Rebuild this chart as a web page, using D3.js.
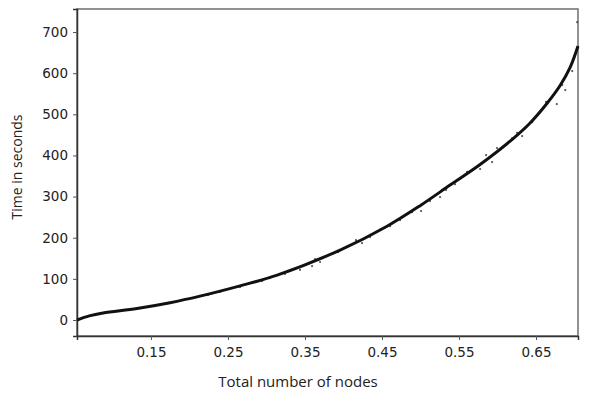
<!DOCTYPE html>
<html><head><meta charset="utf-8">
<script src="https://cdn.jsdelivr.net/npm/d3@7"></script>
<style>body{margin:0;background:#fff}svg{display:block}</style>
</head><body>
<script>
const xTicks = [0.15, 0.25, 0.35, 0.45, 0.55, 0.65];
const yTicks = [0, 100, 200, 300, 400, 500, 600, 700];
const fitX = [0.054, 0.07, 0.0878, 0.1319, 0.1748, 0.2137, 0.2657, 0.3139, 0.3956, 0.4566, 0.4995, 0.5384, 0.5774, 0.6203, 0.6423, 0.6644, 0.6813, 0.6943, 0.7045];
const fitY = [0, 10, 17, 28, 42, 58, 83, 109, 170, 228, 278, 328, 378, 441, 479, 527, 570, 614, 666];
const obsX = [0.0644,0.0709,0.0774,0.0839,0.0904,0.0969,0.1072,0.1163,0.1358,0.1553,0.1722,0.1943,0.2241,0.2397,0.2657,0.2826,0.2943,0.3046,0.3241,0.3436,0.3592,0.3631,0.3696,0.393,0.4163,0.4241,0.4345,0.4488,0.4605,0.4735,0.489,0.5007,0.5124,0.5254,0.5332,0.5449,0.5605,0.5774,0.5852,0.593,0.5994,0.619,0.6254,0.632,0.645,0.663,0.677,0.684,0.688,0.697,0.7034];
const obsY = [7,10,12,15,17,19,22,24,29,34,41,51,61,68,80,90,95,102,112,122,131,148,141,165,194,187,202,221,228,243,262,265,289,299,316,330,360,367,401,384,418,442,455,447,481,530,525,571,559,605,724];

const W = 589, H = 393;
const m = {l: 77, r: 578, t: 9, b: 336};
const svg = d3.select("body").append("svg").attr("width", W).attr("height", H);
const x = d3.scaleLinear().domain([0.054, 0.7045]).range([m.l, m.r]);
const y = d3.scaleLinear().domain([-38.9, 756]).range([m.b, m.t]);

// frame
svg.append("rect").attr("x", m.l).attr("y", m.t).attr("width", m.r - m.l).attr("height", m.b - m.t)
  .attr("fill", "none").attr("stroke", "#777").attr("stroke-width", 1.6);

const font = "'DejaVu Sans', Verdana, sans-serif";
const xa = svg.append("g").attr("transform", `translate(0,${m.b})`)
  .call(d3.axisBottom(x).tickValues(xTicks).tickFormat(d3.format(".2f")).tickSize(4).tickPadding(7));
const ya = svg.append("g").attr("transform", `translate(${m.l},0)`)
  .call(d3.axisLeft(y).tickValues(yTicks).tickFormat(d3.format("d")).tickSize(4).tickPadding(5));
[xa, ya].forEach(a => {
  a.select(".domain").attr("stroke", "#333").attr("stroke-width", 1.5);
  a.selectAll(".tick line").attr("stroke", "#555");
  a.selectAll("text").attr("fill", "#222").style("font-family", font).style("font-size", "13.5px");
});

// scatter
const pts = obsX.map((v, i) => [v, obsY[i]]);
svg.append("g").selectAll("circle").data(pts).join("circle")
  .attr("cx", d => x(d[0])).attr("cy", d => y(d[1])).attr("r", 1.1).attr("fill", "#555");

// fitted curve
const fit = fitX.map((v, i) => [v, fitY[i]]);
svg.append("path").datum(fit)
  .attr("d", d3.line().x(d => x(d[0])).y(d => y(d[1])).curve(d3.curveCatmullRom.alpha(0.5)))
  .attr("fill", "none").attr("stroke", "#111").attr("stroke-width", 3);

const tf = "'Open Sans', 'Liberation Sans', sans-serif";
svg.append("text").attr("x", 298).attr("y", 387).attr("text-anchor", "middle")
  .style("font-family", tf).style("font-size", "15px").attr("fill", "#222").text("Total number of nodes");
svg.append("text").attr("transform", `translate(22,167) rotate(-90)`).attr("text-anchor", "middle")
  .style("font-family", tf).style("font-size", "14px").attr("fill", "#222").text("Time in seconds");
</script>
</body></html>
